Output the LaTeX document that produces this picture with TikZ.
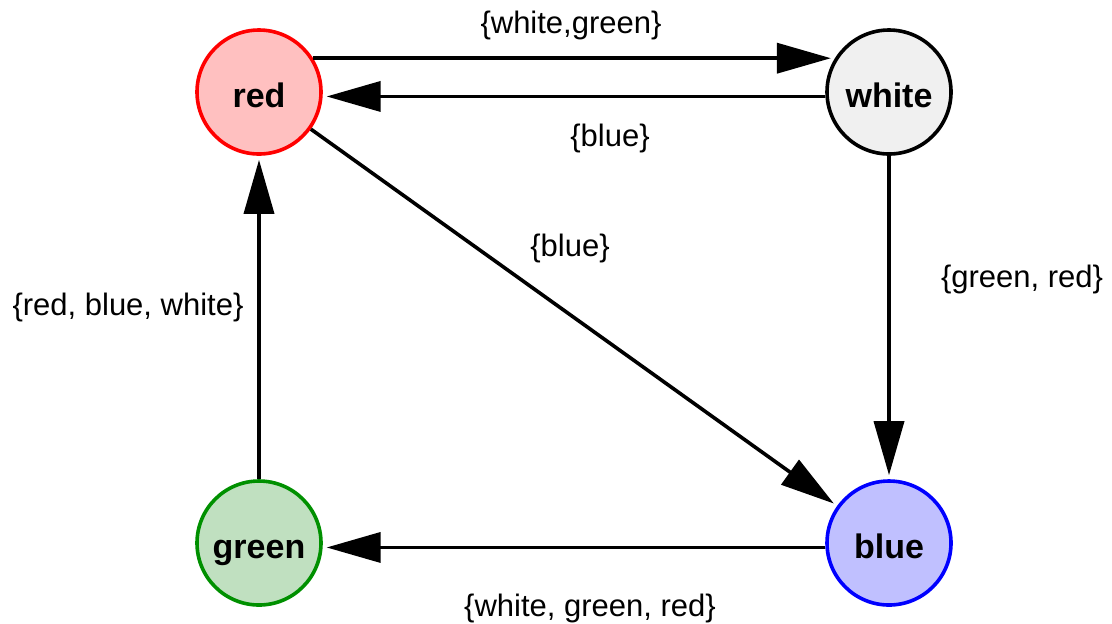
\documentclass[tikz,border=0pt]{standalone}
\usepackage{fontspec}
\setmainfont{Liberation Sans}
\usetikzlibrary{arrows.meta}
\definecolor{redfill}{HTML}{FFC0C0}
\definecolor{whitefill}{HTML}{F0F0F0}
\definecolor{greenfill}{HTML}{C0E0C0}
\definecolor{greenline}{HTML}{009000}
\definecolor{bluefill}{HTML}{C0C0FF}
\begin{document}
\begin{tikzpicture}[x=0.5pt,y=-0.5pt,
  state/.style={circle,minimum size=62pt,inner sep=0pt,line width=1.8pt,text height=15pt,text depth=0pt,font=\fontsize{17}{20}\selectfont\bfseries},
  trans/.style={line width=1.8pt,-{Triangle[length=27pt,width=15pt]},shorten >=2pt},
  lbl/.style={font=\fontsize{15.5}{18}\selectfont,inner sep=0pt}]
\useasboundingbox (0,0) rectangle (1112,623);
% the four states
\node[state,draw=red,fill=redfill] (red) at (259,92) {red};
\node[state,draw=black,fill=whitefill] (white) at (889,92) {white};
\node[state,draw=greenline,fill=greenfill] (green) at (259,543) {green};
\node[state,draw=blue,fill=bluefill] (blue) at (889,543) {blue};
% transitions
\draw[trans] (red.32) -- (white.148);
\draw[trans] (white.184) -- (red.-4);
\draw[trans] (red) -- (blue);
\draw[trans] (white) -- (blue);
\draw[trans] (blue.184) -- (green.-4);
\draw[trans] (green) -- (red);
% labels
\node[lbl] (lwg) at (571,25) {\{white,green\}};
\node[lbl] (lb1) at (610,138) {\{blue\}};
\node[lbl] (lb2) at (570,248) {\{blue\}};
\node[lbl] (lgr) at (1022,279) {\{green, red\}};
\node[lbl] (lrbw) at (128,307) {\{red, blue, white\}};
\node[lbl] (lwgr) at (590,608) {\{white, green, red\}};
\end{tikzpicture}
\end{document}
